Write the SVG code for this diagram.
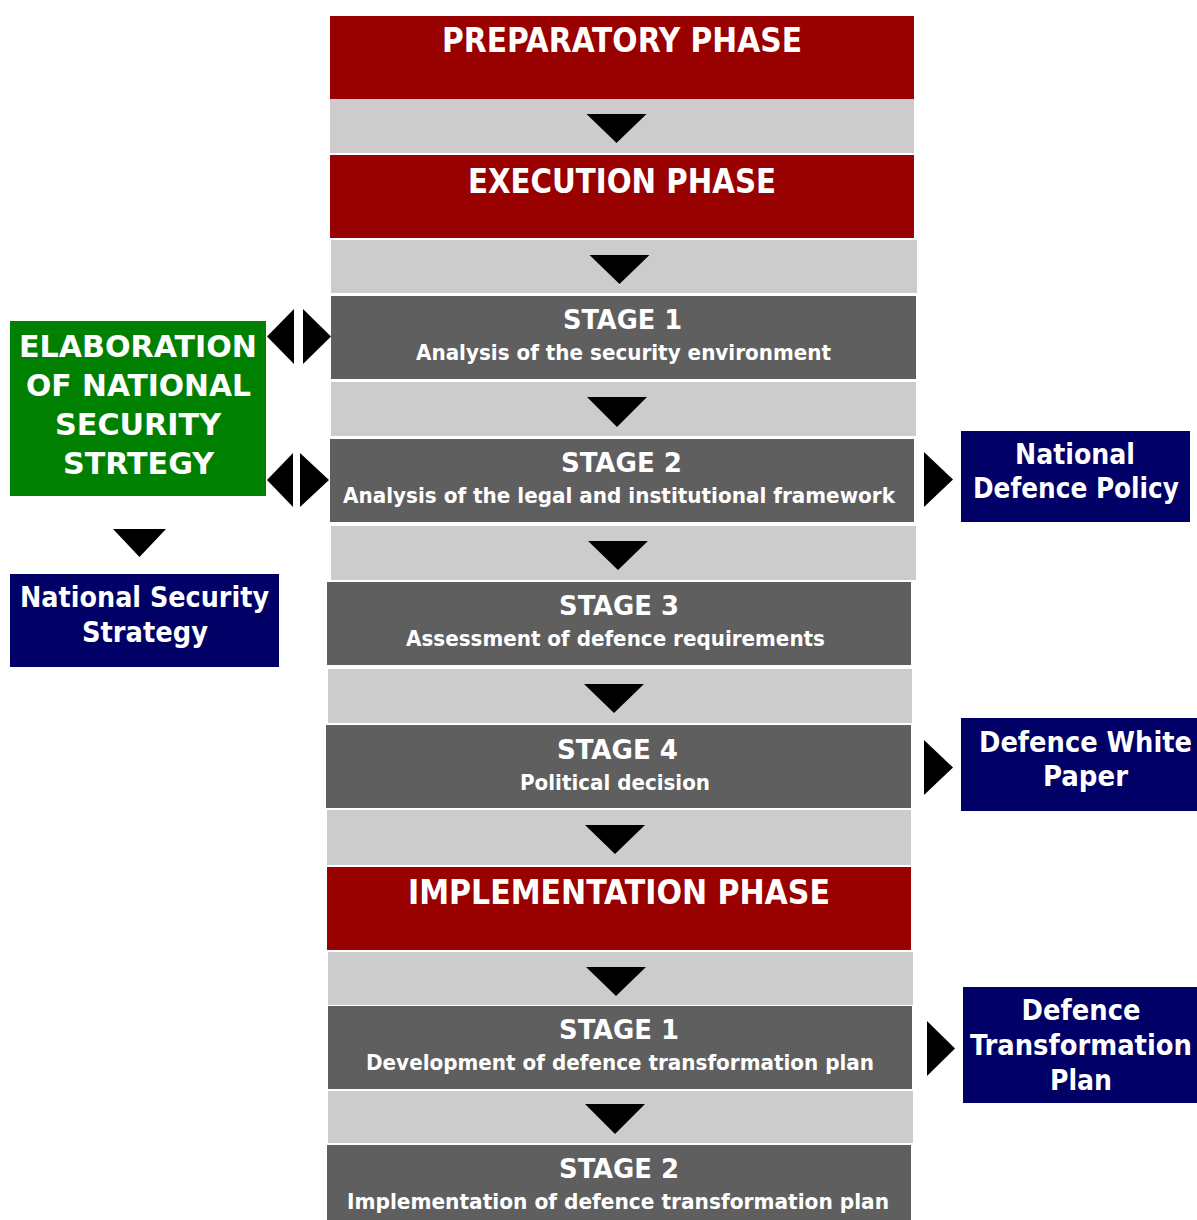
<svg xmlns="http://www.w3.org/2000/svg" width="1197" height="1220" viewBox="0 0 1197 1220">
<style>
text{font-family:"DejaVu Sans Condensed","DejaVu Sans",sans-serif;font-weight:bold;fill:#ffffff;text-anchor:middle}
.red{fill:#990000}
.band{fill:#cccccc}
.stage{fill:#5f5f5f}
.green{fill:#008000}
.navy{fill:#000066}
.tri{fill:#000000}
.h{font-size:33px}
.st{font-size:26px}
.sub{font-size:21px}
.g{font-size:30px}
.b{font-size:28px}
</style>
<rect width="1197" height="1220" fill="#ffffff"/>
<g id="bands">
<rect class="band" x="330" y="99" width="584" height="54"/>
<rect class="band" x="331" y="240" width="586" height="53"/>
<rect class="band" x="331" y="382" width="585" height="54"/>
<rect class="band" x="331" y="526" width="585" height="54"/>
<rect class="band" x="328" y="669" width="584" height="54"/>
<rect class="band" x="327" y="810" width="584" height="55"/>
<rect class="band" x="328" y="952" width="585" height="53"/>
<rect class="band" x="328" y="1091" width="585" height="52"/>
</g>
<g id="preparatory">
<rect class="red" x="330" y="16" width="584" height="83"/>
<text class="h" x="622" y="52" textLength="360" lengthAdjust="spacingAndGlyphs">PREPARATORY PHASE</text>
</g>
<g id="execution">
<rect class="red" x="330" y="155" width="584" height="83"/>
<text class="h" x="622" y="193" textLength="308" lengthAdjust="spacingAndGlyphs">EXECUTION PHASE</text>
</g>
<g id="exec-stage1">
<rect class="stage" x="331" y="296" width="585" height="83"/>
<text class="st" x="622.5" y="329" textLength="119" lengthAdjust="spacingAndGlyphs">STAGE 1</text>
<text class="sub" x="623.5" y="360" textLength="415" lengthAdjust="spacingAndGlyphs">Analysis of the security environment</text>
</g>
<g id="exec-stage2">
<rect class="stage" x="330" y="439" width="584" height="83"/>
<text class="st" x="621.5" y="472" textLength="121" lengthAdjust="spacingAndGlyphs">STAGE 2</text>
<text class="sub" x="619" y="503" textLength="552" lengthAdjust="spacingAndGlyphs">Analysis of the legal and institutional framework</text>
</g>
<g id="exec-stage3">
<rect class="stage" x="327" y="582" width="584" height="83"/>
<text class="st" x="619" y="615" textLength="120" lengthAdjust="spacingAndGlyphs">STAGE 3</text>
<text class="sub" x="615.5" y="646" textLength="419" lengthAdjust="spacingAndGlyphs">Assessment of defence requirements</text>
</g>
<g id="exec-stage4">
<rect class="stage" x="326" y="725" width="585" height="83"/>
<text class="st" x="617.5" y="759" textLength="121" lengthAdjust="spacingAndGlyphs">STAGE 4</text>
<text class="sub" x="615" y="790" textLength="190" lengthAdjust="spacingAndGlyphs">Political decision</text>
</g>
<g id="implementation">
<rect class="red" x="327" y="867" width="584" height="83"/>
<text class="h" x="619" y="904" textLength="422" lengthAdjust="spacingAndGlyphs">IMPLEMENTATION PHASE</text>
</g>
<g id="impl-stage1">
<rect class="stage" x="328" y="1006" width="584" height="83"/>
<text class="st" x="619" y="1039" textLength="120" lengthAdjust="spacingAndGlyphs">STAGE 1</text>
<text class="sub" x="620" y="1070" textLength="508" lengthAdjust="spacingAndGlyphs">Development of defence transformation plan</text>
</g>
<g id="impl-stage2">
<rect class="stage" x="327" y="1145" width="584" height="75"/>
<text class="st" x="619" y="1178" textLength="120" lengthAdjust="spacingAndGlyphs">STAGE 2</text>
<text class="sub" x="618" y="1209" textLength="542" lengthAdjust="spacingAndGlyphs">Implementation of defence transformation plan</text>
</g>
<g id="elaboration">
<rect class="green" x="10" y="321" width="256" height="175"/>
<text class="g" x="138" y="357" textLength="238" lengthAdjust="spacingAndGlyphs">ELABORATION</text>
<text class="g" x="138.5" y="396" textLength="225" lengthAdjust="spacingAndGlyphs">OF NATIONAL</text>
<text class="g" x="138" y="435" textLength="166" lengthAdjust="spacingAndGlyphs">SECURITY</text>
<text class="g" x="138.5" y="474" textLength="151" lengthAdjust="spacingAndGlyphs">STRTEGY</text>
</g>
<g id="national-security-strategy">
<rect class="navy" x="10" y="574" width="269" height="93"/>
<text class="b" x="144.5" y="607" textLength="249" lengthAdjust="spacingAndGlyphs">National Security</text>
<text class="b" x="145" y="642" textLength="126" lengthAdjust="spacingAndGlyphs">Strategy</text>
</g>
<g id="national-defence-policy">
<rect class="navy" x="961" y="431" width="229" height="91"/>
<text class="b" x="1075" y="464" textLength="120" lengthAdjust="spacingAndGlyphs">National</text>
<text class="b" x="1076" y="498" textLength="206" lengthAdjust="spacingAndGlyphs">Defence Policy</text>
</g>
<g id="defence-white-paper">
<rect class="navy" x="961" y="718" width="236" height="93"/>
<text class="b" x="1085.5" y="752" textLength="213" lengthAdjust="spacingAndGlyphs">Defence White</text>
<text class="b" x="1085.5" y="786" textLength="85" lengthAdjust="spacingAndGlyphs">Paper</text>
</g>
<g id="defence-transformation-plan">
<rect class="navy" x="963" y="987" width="234" height="116"/>
<text class="b" x="1081" y="1020" textLength="119" lengthAdjust="spacingAndGlyphs">Defence</text>
<text class="b" x="1081" y="1055" textLength="222" lengthAdjust="spacingAndGlyphs">Transformation</text>
<text class="b" x="1081" y="1090" textLength="62" lengthAdjust="spacingAndGlyphs">Plan</text>
</g>
<g id="connectors">
<polygon class="tri" points="586.5,114 646.5,114 616.5,143"/>
<polygon class="tri" points="589.5,255 649.5,255 619.5,284"/>
<polygon class="tri" points="587,397 647,397 617,427"/>
<polygon class="tri" points="588,541 648,541 618,570"/>
<polygon class="tri" points="584,684 644,684 614,713"/>
<polygon class="tri" points="585,825 645,825 615,854"/>
<polygon class="tri" points="586,967 646,967 616,996"/>
<polygon class="tri" points="585,1104 645,1104 615,1134"/>
<polygon class="tri" points="267,336.5 294,309 294,364"/>
<polygon class="tri" points="303,309 303,364 331,336.5"/>
<polygon class="tri" points="267,480 293,453 293,507"/>
<polygon class="tri" points="300,453 300,507 329,480"/>
<polygon class="tri" points="113,529 166,529 139.5,557"/>
<polygon class="tri" points="924,452 924,507 953,479.5"/>
<polygon class="tri" points="924,740 924,795 953,767.5"/>
<polygon class="tri" points="927,1021 927,1076 955,1048.5"/>
</g>
</svg>
